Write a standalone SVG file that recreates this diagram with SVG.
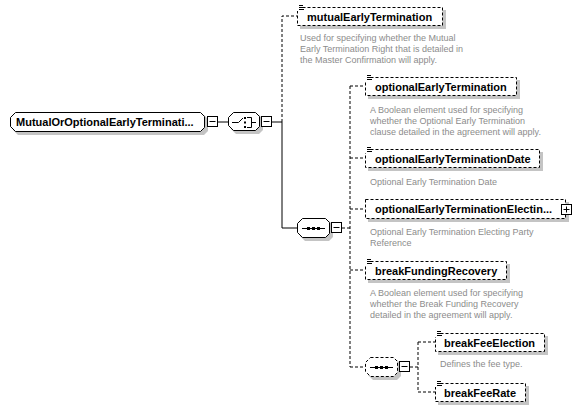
<svg xmlns="http://www.w3.org/2000/svg" width="581" height="412" viewBox="0 0 581 412">
<style>
.bg{fill:#fff}
.sh{fill:#c4c4c4;stroke:none}
.box{fill:#fff;stroke:#000;stroke-width:1}
.opt{fill:#fff;stroke:#000;stroke-width:1;stroke-dasharray:3,2}
.ln{stroke:#000;stroke-width:1;fill:none}
.dl{stroke:#000;stroke-width:1;fill:none;stroke-dasharray:3,2}
.lbl{font-family:"Liberation Sans",Arial,sans-serif;font-size:11px;font-weight:bold;fill:#000}
.desc{font-family:"Liberation Sans",Arial,sans-serif;font-size:9px;fill:#8c8c8c}
.ic{stroke:#000;stroke-width:1}
</style>
<rect width="581" height="412" fill="#fff"/>
<g id="connectors">
<path class="ln" d="M218,122H228M272,122H282M282,122V228H297"/>
<path class="dl" d="M282,122V16H297"/>
<path class="dl" d="M342,228H350M350,86V367M350,86H365M350,158H365M350,209H365M350,270H365M350,367H365"/>
<path class="dl" d="M410,367H418M418,342V392M418,342H435M418,392H435"/>
</g>
<g id="root">
<polygon class="sh" points="18,115 204,115 208,119 208,131 204,135 18,135 13,130 13,119"/>
<polygon class="box" points="15.5,112.5 200.5,112.5 204.5,116.5 204.5,127.5 200.5,131.5 15.5,131.5 10.5,126.5 10.5,117.5"/>
<text class="lbl" x="16" y="126">MutualOrOptionalEarlyTerminati...</text>
<rect class="box" x="207.5" y="116.5" width="10" height="10"/>
<path class="ic" d="M209.5,121.5H215.5"/>
</g>
<g id="choice">
<polygon class="sh" points="236,115 259,115 263,119 263,130 259,134 236,134 231,129 231,120"/>
<polygon class="box" points="233.5,112.5 255.5,112.5 259.5,116.5 259.5,126.5 255.5,130.5 233.5,130.5 228.5,125.5 228.5,117.5"/>
<path class="ic" d="M232,122.5H238.5L243,118M247,117.5H251.5V127.5H247M251.5,122.5H256" fill="none"/>
<rect x="244" y="117" width="2" height="2"/><rect x="244" y="121.5" width="2" height="2"/><rect x="244" y="126" width="2" height="2"/>
<rect class="box" x="261.5" y="116.5" width="10" height="10"/>
<path class="ic" d="M263.5,121.5H269.5"/>
</g>
<g id="mutualEarlyTermination">
<rect class="sh" x="300" y="10" width="146" height="19"/>
<rect class="opt" x="297.5" y="7.5" width="145" height="18"/>
<rect class="bg" x="297" y="4" width="7" height="7"/>
<path class="ic" d="M299,5.5H303M299,7.5H304M299,9.5H304"/>
<text class="lbl" x="307" y="21">mutualEarlyTermination</text>
<text class="desc" x="300" y="41">Used for specifying whether the Mutual</text>
<text class="desc" x="300" y="52">Early Termination Right that is detailed in</text>
<text class="desc" x="300" y="63">the Master Confirmation will apply.</text>
</g>
<g id="sequence">
<polygon class="sh" points="305,221 329,221 333,225 333,237 329,241 305,241 300,236 300,226"/>
<polygon class="box" points="302.5,218.5 325.5,218.5 329.5,222.5 329.5,233.5 325.5,237.5 302.5,237.5 297.5,232.5 297.5,223.5"/>
<path class="ic" d="M302,228.5H325"/>
<rect x="307" y="227" width="3" height="3"/><rect x="312" y="227" width="3" height="3"/><rect x="317" y="227" width="3" height="3"/>
<rect class="box" x="331.5" y="222.5" width="10" height="10"/>
<path class="ic" d="M333.5,227.5H339.5"/>
</g>
<g id="optionalEarlyTermination">
<rect class="sh" x="368" y="80" width="152" height="19"/>
<rect class="opt" x="365.5" y="77.5" width="151" height="18"/>
<rect class="bg" x="365" y="74" width="7" height="7"/>
<path class="ic" d="M367,75.5H371M367,77.5H372M367,79.5H372"/>
<text class="lbl" x="375" y="91">optionalEarlyTermination</text>
<text class="desc" x="370" y="113">A Boolean element used for specifying</text>
<text class="desc" x="370" y="124">whether the Optional Early Termination</text>
<text class="desc" x="370" y="135">clause detailed in the agreement will apply.</text>
</g>
<g id="optionalEarlyTerminationDate">
<rect class="sh" x="368" y="152" width="175" height="19"/>
<rect class="opt" x="365.5" y="149.5" width="174" height="18"/>
<rect class="bg" x="365" y="146" width="7" height="7"/>
<path class="ic" d="M367,147.5H371M367,149.5H372M367,151.5H372"/>
<text class="lbl" x="375" y="163">optionalEarlyTerminationDate</text>
<text class="desc" x="370" y="185">Optional Early Termination Date</text>
</g>
<g id="optionalEarlyTerminationElectingParty">
<rect class="sh" x="368" y="202" width="201" height="20"/>
<rect class="opt" x="365.5" y="199.5" width="200" height="19"/>
<text class="lbl" x="375" y="213">optionalEarlyTerminationElectin...</text>
<rect class="box" x="561.5" y="204.5" width="10" height="10"/>
<path class="ic" d="M563.5,209.5H569.5M566.5,206.5V212.5"/>
<text class="desc" x="370" y="235">Optional Early Termination Electing Party</text>
<text class="desc" x="370" y="246">Reference</text>
</g>
<g id="breakFundingRecovery">
<rect class="sh" x="368" y="264" width="142" height="19"/>
<rect class="opt" x="365.5" y="261.5" width="141" height="18"/>
<rect class="bg" x="365" y="258" width="7" height="7"/>
<path class="ic" d="M367,259.5H371M367,261.5H372M367,263.5H372"/>
<text class="lbl" x="375" y="275">breakFundingRecovery</text>
<text class="desc" x="370" y="296">A Boolean element used for specifying</text>
<text class="desc" x="370" y="307">whether the Break Funding Recovery</text>
<text class="desc" x="370" y="318">detailed in the agreement will apply.</text>
</g>
<g id="sequence2">
<polygon class="sh" points="373,360 397,360 401,364 401,376 397,380 373,380 368,375 368,365"/>
<polygon class="opt" points="370.5,357.5 393.5,357.5 397.5,361.5 397.5,372.5 393.5,376.5 370.5,376.5 365.5,371.5 365.5,362.5"/>
<path class="ic" d="M370,367.5H393"/>
<rect x="375" y="366" width="3" height="3"/><rect x="380" y="366" width="3" height="3"/><rect x="385" y="366" width="3" height="3"/>
<rect class="box" x="399.5" y="361.5" width="10" height="10"/>
<path class="ic" d="M401.5,366.5H407.5"/>
</g>
<g id="breakFeeElection">
<rect class="sh" x="438" y="336" width="110" height="19"/>
<rect class="opt" x="435.5" y="333.5" width="109" height="18"/>
<rect class="bg" x="435" y="330" width="7" height="7"/>
<path class="ic" d="M437,331.5H441M437,333.5H442M437,335.5H442"/>
<text class="lbl" x="444" y="347">breakFeeElection</text>
<text class="desc" x="440" y="367">Defines the fee type.</text>
</g>
<g id="breakFeeRate">
<rect class="sh" x="438" y="386" width="91" height="19"/>
<rect class="opt" x="435.5" y="383.5" width="90" height="18"/>
<rect class="bg" x="435" y="380" width="7" height="7"/>
<path class="ic" d="M437,381.5H441M437,383.5H442M437,385.5H442"/>
<text class="lbl" x="444" y="397">breakFeeRate</text>
</g>
</svg>
